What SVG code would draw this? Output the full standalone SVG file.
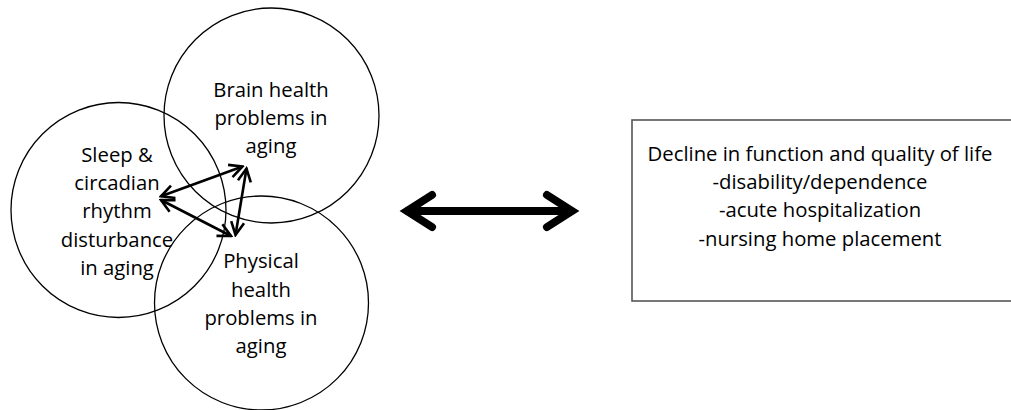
<svg xmlns="http://www.w3.org/2000/svg" width="1011" height="410" viewBox="0 0 1011 410">
<style>
.c{fill:none;stroke:#000;stroke-width:1.3}
.t{font-family:"Open Sans","Liberation Sans",sans-serif;font-size:20.3px;fill:#000;text-anchor:middle}
.sa{fill:none;stroke:#000;stroke-width:2.6}
.big{fill:none;stroke:#000;stroke-width:8;stroke-linecap:round;stroke-linejoin:miter;stroke-miterlimit:10}
</style>
<defs>
<marker id="ch" viewBox="-15 -8 17 16" markerWidth="17" markerHeight="16" markerUnits="userSpaceOnUse" refX="0" refY="0" orient="auto-start-reverse">
<path d="M-13,-6.5 L0,0 L-13,6.5" fill="none" stroke="#000" stroke-width="2.6" stroke-linejoin="miter"/>
</marker>
</defs>
<rect width="1011" height="410" fill="#fff"/>
<g id="brain">
<circle class="c" cx="271.5" cy="115.5" r="107.5"/>
<text class="t" x="271" y="97">Brain health</text>
<text class="t" x="271" y="125">problems in</text>
<text class="t" x="271" y="153">aging</text>
</g>
<g id="sleep">
<circle class="c" cx="118.5" cy="210" r="107.5"/>
<text class="t" x="117" y="162">Sleep &amp;</text>
<text class="t" x="117" y="190">circadian</text>
<text class="t" x="117" y="218">rhythm</text>
<text class="t" x="117" y="247">disturbance</text>
<text class="t" x="117" y="275">in aging</text>
</g>
<g id="physical">
<circle class="c" cx="261.5" cy="303" r="107"/>
<text class="t" x="261" y="268">Physical</text>
<text class="t" x="261" y="297">health</text>
<text class="t" x="261" y="325">problems in</text>
<text class="t" x="261" y="353">aging</text>
</g>
<g id="outcome">
<rect x="632" y="120" width="400" height="181" fill="none" stroke="#555" stroke-width="1.6"/>
<text class="t" x="820" y="161">Decline in function and quality of life</text>
<text class="t" x="820" y="189">-disability/dependence</text>
<text class="t" x="820" y="217">-acute hospitalization</text>
<text class="t" x="820" y="246">-nursing home placement</text>
</g>
<g id="connectors">
<line class="sa" x1="161" y1="196.3" x2="242.5" y2="166.5" marker-start="url(#ch)" marker-end="url(#ch)"/>
<line class="sa" x1="161" y1="200" x2="231" y2="236" marker-start="url(#ch)" marker-end="url(#ch)"/>
<line class="sa" x1="246.5" y1="168.5" x2="235.5" y2="235" marker-start="url(#ch)" marker-end="url(#ch)"/>
<line class="big" x1="408" y1="211" x2="570" y2="211"/>
<polyline class="big" points="432,195 407,211 432,227"/>
<polyline class="big" points="547,195 572,211 547,227"/>
</g>
</svg>
